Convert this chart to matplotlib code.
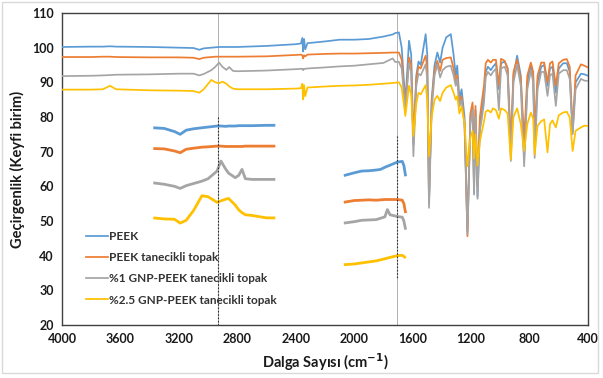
import matplotlib
matplotlib.use("Agg")
import matplotlib.pyplot as plt
from matplotlib.patches import Rectangle
import numpy as np

plt.rcParams['font.family'] = ['Lato', 'DejaVu Sans']
plt.rcParams['font.weight'] = 'bold'

## ana spektrum (dalga sayisi, cm-1)
wavenumber = [4000, 3800, 3720, 3671, 3630, 3400, 3200, 3100, 3060, 3030,
              2978, 2950, 2925, 2903, 2875, 2855, 2830, 2800, 2600, 2400,
              2365, 2355, 2350, 2343, 2335, 2320, 2200, 2100, 2000, 1900,
              1800, 1737, 1720, 1694, 1675, 1650, 1625, 1610, 1595, 1575,
              1560, 1545, 1511, 1500, 1488, 1470, 1450, 1431, 1412, 1395,
              1370, 1339, 1320, 1305, 1295, 1280, 1265, 1245, 1225, 1205,
              1190, 1180, 1170, 1156, 1140, 1125, 1112, 1100, 1085, 1065,
              1050, 1030, 1010, 995, 970, 950, 928, 910, 885, 860,
              837, 815, 791, 775, 765, 745, 720, 700, 677, 660,
              643, 620, 600, 570, 545, 525, 505, 485, 448, 425, 400]

peek = [100.2, 100.3, 100.3, 100.4, 100.3, 100.2, 100.0, 99.9, 99.4, 99.8,
        100.0, 100.1, 100.2, 100.2, 100.2, 100.2, 100.2, 100.2, 100.5, 101.0,
        101.2, 102.8, 98.9, 102.5, 99.5, 101.3, 101.8, 102.3, 102.3, 102.5,
        103.2, 103.8, 104.2, 104.4, 100.0, 84.0, 102.0, 98.0, 72.0, 92.0,
        96.0, 95.0, 103.9, 98.0, 55.0, 85.0, 95.0, 98.6, 95.7, 100.0,
        103.0, 103.9, 98.0, 91.9, 94.8, 85.1, 88.0, 80.0, 47.0, 80.0,
        83.0, 58.0, 82.0, 57.0, 78.0, 82.0, 86.0, 93.0, 94.5, 93.5,
        94.5, 95.5, 88.0, 95.5, 96.0, 94.0, 70.0, 92.0, 97.7, 92.0,
        68.0, 90.0, 95.0, 92.0, 72.0, 90.0, 94.5, 95.0, 89.0, 94.0,
        94.5, 87.0, 94.0, 95.5, 95.5, 93.0, 76.0, 90.0, 92.5, 92.3, 91.9]

peek_topak = [97.3, 97.3, 97.4, 97.4, 97.3, 97.2, 97.2, 97.1, 96.7, 97.1,
              97.3, 97.4, 97.4, 97.4, 97.4, 97.4, 97.4, 97.4, 97.5, 97.9,
              98.0, 97.8, 96.9, 97.8, 97.5, 98.0, 98.2, 98.3, 98.3, 98.4,
              98.5, 98.6, 98.6, 98.6, 96.5, 83.0, 97.2, 95.0, 73.0, 91.0,
              94.5, 94.0, 97.7, 94.0, 56.0, 84.0, 93.5, 96.2, 93.3, 96.5,
              97.0, 97.2, 94.0, 90.0, 92.0, 84.0, 86.0, 78.0, 45.6, 81.0,
              84.2, 60.0, 83.2, 60.0, 80.0, 85.0, 89.0, 95.5, 96.5, 95.7,
              96.5, 96.5, 89.0, 96.8, 96.2, 94.0, 72.0, 93.0, 96.5, 91.0,
              73.5, 92.0, 95.7, 93.0, 75.0, 92.0, 95.7, 95.7, 90.0, 95.5,
              96.0, 89.0, 95.5, 96.5, 96.7, 94.5, 75.5, 92.0, 95.2, 94.8, 94.3]

gnp1 = [91.8, 91.9, 92.0, 92.1, 92.2, 92.3, 92.5, 92.5, 92.0, 92.4,
        93.5, 94.5, 95.7, 94.5, 93.6, 94.4, 93.3, 93.2, 93.4, 93.8,
        93.9, 93.9, 93.5, 93.9, 93.9, 94.0, 94.3, 94.6, 94.8, 95.2,
        95.6, 96.9, 95.9, 95.9, 94.0, 82.0, 95.5, 93.0, 68.7, 89.0,
        92.5, 92.0, 95.2, 91.0, 53.8, 82.0, 92.0, 95.2, 91.4, 93.5,
        94.5, 94.8, 92.0, 89.0, 91.0, 83.0, 85.0, 78.0, 46.1, 78.0,
        82.0, 57.6, 80.0, 56.4, 76.0, 80.0, 84.0, 91.5, 93.0, 92.0,
        93.0, 94.0, 82.0, 94.0, 94.5, 92.0, 67.3, 90.0, 95.0, 89.0,
        65.8, 88.0, 93.5, 90.0, 68.2, 88.0, 93.0, 93.0, 86.1, 92.0,
        92.5, 83.2, 92.5, 93.5, 93.5, 91.0, 75.0, 88.0, 91.0, 90.5, 90.4]

gnp25 = [87.9, 87.9, 88.0, 89.0, 88.0, 87.7, 87.6, 87.5, 87.0, 88.0,
         90.7, 90.0, 89.7, 90.2, 89.6, 88.8, 88.2, 88.0, 88.0, 88.2,
         88.3, 89.6, 85.1, 89.2, 86.0, 88.5, 88.8, 89.0, 89.1, 89.3,
         89.6, 89.8, 89.9, 90.0, 88.5, 80.3, 89.0, 86.5, 74.5, 84.0,
         87.0, 86.5, 89.2, 85.0, 68.7, 80.0, 85.0, 86.1, 84.6, 87.0,
         88.5, 89.2, 87.0, 85.0, 86.0, 81.0, 83.0, 78.0, 65.8, 74.0,
         76.0, 68.0, 75.0, 66.0, 73.0, 76.0, 78.8, 81.5, 82.0, 81.3,
         82.5, 82.0, 79.5, 82.5, 82.0, 81.0, 67.7, 80.0, 82.5, 78.0,
         70.2, 78.0, 81.3, 79.5, 69.2, 77.5, 78.8, 79.3, 69.8, 78.0,
         79.0, 77.0, 80.5, 81.3, 81.5, 79.9, 70.2, 76.0, 77.0, 77.5, 77.4]

## buyutulmus bolge 1 (3400-2540)
wn_zoom1 = [3375, 3300, 3230, 3191, 3150, 3100, 3042, 3000, 2939, 2912,
            2880, 2860, 2814, 2790, 2768, 2745, 2700, 2600, 2540]
peek_z1 = [76.9, 76.7, 75.8, 75.0, 76.2, 76.6, 76.9, 77.1, 77.4, 77.4,
           77.3, 77.4, 77.4, 77.5, 77.5, 77.5, 77.5, 77.6, 77.6]
topak_z1 = [70.9, 70.8, 70.2, 69.7, 70.7, 71.0, 71.3, 71.4, 71.6, 71.6,
            71.5, 71.5, 71.5, 71.5, 71.5, 71.6, 71.6, 71.6, 71.6]
gnp1_z1 = [61.0, 60.6, 60.0, 59.4, 60.2, 60.8, 61.5, 62.2, 64.4, 67.3,
           65.0, 63.8, 62.5, 63.2, 64.9, 62.2, 62.0, 62.0, 62.0]
gnp25_z1 = [50.9, 50.6, 50.5, 49.4, 50.2, 53.0, 57.3, 57.0, 55.4, 55.8,
            56.3, 56.5, 54.6, 53.2, 52.4, 51.8, 51.6, 50.9, 50.9]

## buyutulmus bolge 2 (2070-1650)
wn_zoom2 = [2071, 2000, 1950, 1900, 1850, 1819, 1790, 1773, 1755, 1705,
            1671, 1660, 1648]
peek_z2 = [63.1, 63.9, 64.4, 64.5, 64.7, 64.9, 65.5, 65.8, 66.1, 67.0,
           67.2, 66.0, 62.9]
topak_z2 = [55.4, 55.9, 56.0, 56.1, 56.0, 56.1, 56.2, 56.2, 56.2, 56.2,
            56.0, 55.0, 52.3]
gnp1_z2 = [49.4, 49.8, 50.2, 50.3, 50.4, 50.8, 51.2, 53.3, 51.8, 51.3,
           51.1, 50.0, 47.5]
gnp25_z2 = [37.4, 37.6, 37.9, 38.2, 38.5, 38.8, 39.1, 39.3, 39.5, 40.0,
            40.1, 39.8, 39.3]

series = ["PEEK", "PEEK tanecikli topak", "%1 GNP-PEEK tanecikli topak",
          "%2.5 GNP-PEEK tanecikli topak"]
colors = ["#5B9BD5", "#ED7D31", "#A5A5A5", "#FFC000"]

## kesikli cizgiler
line_pos = [2935, 1707]
dotted_from = [79.9, 74.4]
dotted_to = [20, 33.6]

fig = plt.figure(figsize=(6.03, 3.78), dpi=100)
ax = fig.add_axes([0.1028, 0.1402, 0.8723, 0.8254])

main_data = [peek, peek_topak, gnp1, gnp25]
for vals, c, name in zip(main_data, colors, series):
    ax.plot(wavenumber, vals, color=c, lw=1.25, label=name, zorder=3)

for vals, c in zip([peek_z1, topak_z1, gnp1_z1, gnp25_z1], colors):
    ax.plot(wn_zoom1, vals, color=c, lw=2.0, zorder=3, solid_capstyle='butt')
for vals, c in zip([peek_z2, topak_z2, gnp1_z2, gnp25_z2], colors):
    ax.plot(wn_zoom2, vals, color=c, lw=2.0, zorder=3, solid_capstyle='butt')

for p, a, b in zip(line_pos, dotted_from, dotted_to):
    ax.axvline(p, color="#b0b0b0", lw=0.7, zorder=2)
    ax.plot([p, p], [a, b], color="#303030", lw=0.8, ls=(0, (1.5, 1.5)), zorder=4)

ax.set_xlim(4000, 400)
ax.set_ylim(20, 110)
ax.set_xticks(np.arange(4000, 399, -400))
ax.set_yticks(np.arange(20, 111, 10))
ax.tick_params(length=0, labelsize=9, colors="#1a1a1a", pad=6)
for lab in ax.get_xticklabels() + ax.get_yticklabels():
    lab.set_fontweight('bold')
for s in ax.spines.values():
    s.set_color("#404040")
    s.set_linewidth(1.0)

ax.set_xlabel("Dalga Sayısı (cm$^{\\mathbf{-1}}$)", fontsize=10.5, fontweight='bold',
              color="#1a1a1a", labelpad=4)
ax.set_ylabel("Geçirgenlik (Keyfi birim)", fontsize=10.5, fontweight='bold',
              color="#1a1a1a", labelpad=5)

leg = ax.legend(loc="upper left", bbox_to_anchor=(0.045, 0.30), frameon=False,
                fontsize=8.5, handlelength=1.9, handletextpad=0.1,
                labelspacing=0.85, borderpad=0, borderaxespad=0)
for t in leg.get_texts():
    t.set_color("#333333")
    t.set_fontweight('bold')

fig.patches.append(Rectangle((0.004, 0.012), 0.988, 0.984, transform=fig.transFigure,
                             fill=False, edgecolor="#d9d9d9", lw=1.0))

fig.savefig("out.png", dpi=100)
